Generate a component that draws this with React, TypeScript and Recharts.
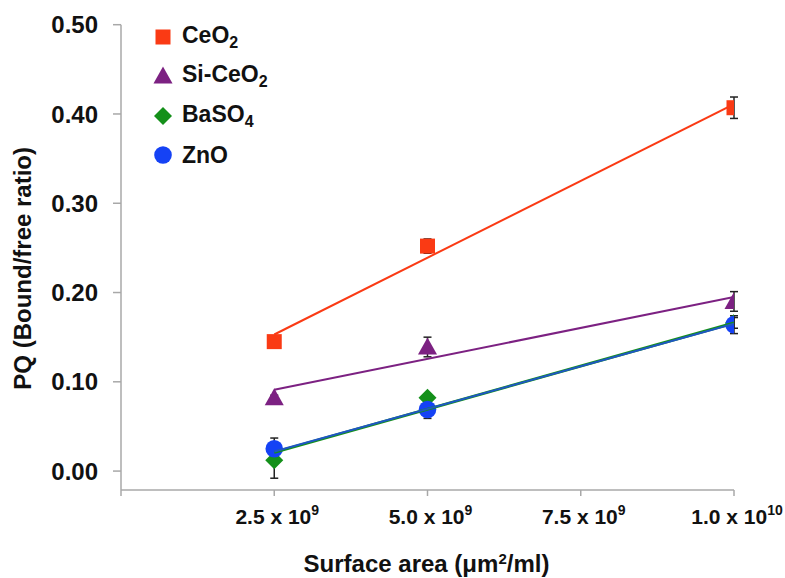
import React from 'react';
import { ComposedChart, Scatter, XAxis, YAxis, ErrorBar, Legend } from 'recharts';

// ---- data ----
const xValues = [2.5e9, 5e9, 1e10];
const ceo2 = [0.145, 0.252, 0.407];
const ceo2Err = [0.003, 0.008, 0.012];
const siCeo2 = [0.082, 0.139, 0.19];
const siCeo2Err = [0.003, 0.011, 0.011];
const baso4 = [0.012, 0.082, 0.166];
const baso4Err = [0.02, 0.004, 0.006];
const zno = [0.025, 0.069, 0.164];
const znoErr = [0.012, 0.01, 0.01];

const trendX = [2.5e9, 1e10];
const ceo2Trend = [0.153, 0.411];
const siCeo2Trend = [0.091, 0.195];
const baso4Trend = [0.021, 0.166];
const znoTrend = [0.022, 0.165];

const xTicks = [0, 2.5e9, 5e9, 7.5e9, 1e10];
const xTickMantissa = ['', '2.5', '5.0', '7.5', '1.0'];
const xTickExponent = ['', '9', '9', '9', '10'];
const yTicks = [0, 0.1, 0.2, 0.3, 0.4, 0.5];
const yTickLabels = ['0.00', '0.10', '0.20', '0.30', '0.40', '0.50'];

const seriesNames = ['CeO', 'Si-CeO', 'BaSO', 'ZnO'];
const seriesSubs = ['2', '2', '4', ''];
const colors = ['#fa3a14', '#7c2182', '#14901a', '#1542f5'];
const trendColors = ['#fa3a14', '#7c2182', '#14901a', '#1f56c4'];

const FONT = '"Liberation Sans", Arial, Helvetica, sans-serif';
const AXIS = '#a8a8a8';

const build = (ys: number[], errs: number[]) =>
  xValues.map((x, i) => ({ x, y: ys[i], err: errs[i] }));
const buildTrend = (ys: number[]) => trendX.map((x, i) => ({ x, y: ys[i] }));

const dataSets = [build(ceo2, ceo2Err), build(siCeo2, siCeo2Err), build(baso4, baso4Err), build(zno, znoErr)];
const trendSets = [buildTrend(ceo2Trend), buildTrend(siCeo2Trend), buildTrend(baso4Trend), buildTrend(znoTrend)];

const markerPath = (kind: number, cx: number, cy: number, color: string) => {
  if (kind === 0) return <rect x={cx - 7.5} y={cy - 7.5} width={15} height={15} fill={color} />;
  if (kind === 1)
    return <polygon points={`${cx},${cy - 9.5} ${cx + 9.5},${cy + 7.5} ${cx - 9.5},${cy + 7.5}`} fill={color} />;
  if (kind === 2)
    return <polygon points={`${cx},${cy - 9} ${cx + 9},${cy} ${cx},${cy + 9} ${cx - 9},${cy}`} fill={color} />;
  return <circle cx={cx} cy={cy} r={8.8} fill={color} />;
};

const makeShape = (kind: number) => (p: any) => {
  if (p.cx == null || p.cy == null) return <g />;
  return markerPath(kind, p.cx, p.cy, colors[kind]);
};
const emptyShape = () => <g />;

const XTick = (props: any) => {
  const { x, y, payload } = props;
  const i = xTicks.indexOf(payload.value);
  if (i < 0 || !xTickMantissa[i]) return <g />;
  return (
    <text x={x + 3} y={y + 26} textAnchor="middle" fontFamily={FONT} fontWeight="bold" fontSize={21} fill="#111">
      <tspan>{`${xTickMantissa[i]} x 10`}</tspan>
      <tspan dy={-9} fontSize={14}>{xTickExponent[i]}</tspan>
    </text>
  );
};

const YTick = (props: any) => {
  const { x, y, payload } = props;
  const i = yTicks.findIndex((t) => Math.abs(t - payload.value) < 1e-9);
  if (i < 0) return <g />;
  return (
    <text x={x} y={y} dy="0.36em" textAnchor="end" fontFamily={FONT} fontWeight="bold" fontSize={24} fill="#111">
      {yTickLabels[i]}
    </text>
  );
};

const YTitle = (props: any) => {
  const vb = props.viewBox || { x: 0, y: 24.7, width: 121, height: 465 };
  const cx = vb.x + 23;
  const cy = vb.y + vb.height / 2 + 11;
  return (
    <text
      x={cx}
      y={cy}
      transform={`rotate(-90 ${cx} ${cy})`}
      textAnchor="middle"
      dominantBaseline="central"
      fontFamily={FONT}
      fontWeight="bold"
      fontSize={24}
      fill="#111"
    >
      PQ (Bound/free ratio)
    </text>
  );
};

const XTitle = (props: any) => {
  const vb = props.viewBox || { x: 121, y: 490, width: 613, height: 88 };
  const cx = vb.x + vb.width / 2 - 1;
  const cy = vb.y + 82;
  return (
    <text x={cx} y={cy} textAnchor="middle" fontFamily={FONT} fontWeight="bold" fontSize={24} fill="#111">
      <tspan>Surface area (</tspan>
      <tspan>μm</tspan>
      <tspan dy={-8} fontSize={15}>2</tspan>
      <tspan dy={8}>/ml)</tspan>
    </text>
  );
};

const LegendContent = () => (
  <div style={{ fontFamily: FONT, fontWeight: 'bold', fontSize: 23, color: '#111' }}>
    {seriesNames.map((name, i) => (
      <div key={name} style={{ display: 'flex', alignItems: 'center', height: 39.5 }}>
        <svg width={22} height={22} style={{ marginRight: 8 }}>
          {markerPath(i, 11, 11, colors[i])}
        </svg>
        <span>
          {name}
          {seriesSubs[i] ? <sub style={{ fontSize: 16, verticalAlign: '-5px' }}>{seriesSubs[i]}</sub> : null}
        </span>
      </div>
    ))}
  </div>
);

export default function App() {
  return (
    <div style={{ position: 'absolute', left: 0, top: 0, background: '#fff' }}>
      <ComposedChart width={785} height={578} margin={{ top: 24.7, right: 51, bottom: 0, left: 0 }}>
        <XAxis
          type="number"
          dataKey="x"
          domain={[0, 1e10]}
          ticks={xTicks}
          allowDataOverflow
          height={88}
          tickSize={6}
          stroke={AXIS}
          strokeWidth={1.5}
          tickLine={{ stroke: AXIS, strokeWidth: 1.5 }}
          tick={<XTick />}
          interval={0}
          label={<XTitle />}
        />
        <YAxis
          type="number"
          dataKey="y"
          domain={[-0.0212, 0.5]}
          ticks={yTicks}
          allowDataOverflow
          width={121}
          tickSize={8}
          tickMargin={15}
          stroke={AXIS}
          strokeWidth={1.5}
          tickLine={{ stroke: AXIS, strokeWidth: 1.5 }}
          tick={<YTick />}
          interval={0}
          label={<YTitle />}
        />
        <Legend
          layout="vertical"
          align="center"
          verticalAlign="middle"
          content={<LegendContent />}
          wrapperStyle={{ position: 'absolute', left: 152, top: 17, width: 200 }}
        />
        {dataSets.map((d, i) => (
          <Scatter key={`m${i}`} data={d} dataKey="y" shape={makeShape(i)} isAnimationActive={false} />
        ))}
        {trendSets.map((d, i) => (
          <Scatter
            key={`t${i}`}
            data={d}
            dataKey="y"
            shape={emptyShape}
            line={{ stroke: trendColors[i], strokeWidth: i === 2 ? 3 : 2 }}
            isAnimationActive={false}
          />
        ))}
        {dataSets.map((d, i) => (
          <Scatter key={`e${i}`} data={d} dataKey="y" shape={emptyShape} isAnimationActive={false}>
            <ErrorBar dataKey="err" direction="y" width={4} stroke="#222" strokeWidth={1.5} />
          </Scatter>
        ))}
      </ComposedChart>
    </div>
  );
}
